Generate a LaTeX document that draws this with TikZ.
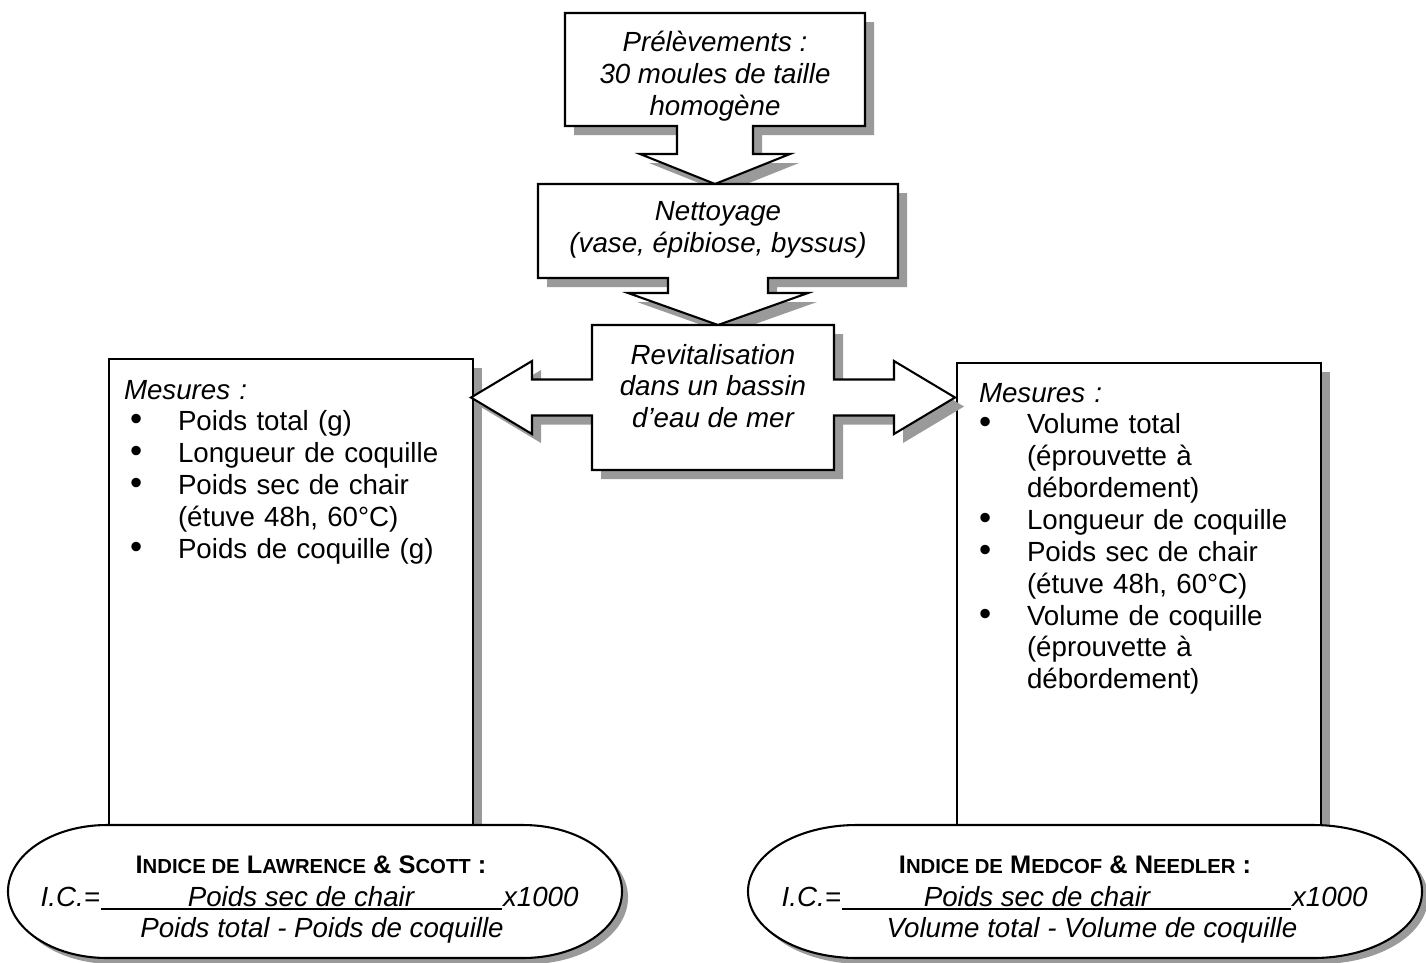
\documentclass[tikz,border=0pt]{standalone}
\usepackage{fontspec}
\setmainfont{Liberation Sans}
\usepackage{graphicx}
\usetikzlibrary{
  calc,
  positioning,
  backgrounds,
  shadows
}
\definecolor{gris}{HTML}{9A9A9A}
\pgfdeclarelayer{background}
\pgfsetlayers{background,main}
\newdimen\upx
\upx=0.4332pt
\newdimen\retrait
\newdimen\decal
\newcommand{\puce}[1]{\par\noindent\hangindent=\retrait\hangafter=1%
  \makebox[\retrait][l]{\hspace*{\decal}\scalebox{1.25}{\textbullet}}#1\par}
\newcommand{\pc}[1]{{\fontsize{8.8}{10}\selectfont #1}}
% box with a down arrow: node, stem half, stem length, head half, tip length
\newcommand{\calloutbas}[5]{%
  \draw[contour, ombrage] (#1.north west) -- (#1.north east) -- (#1.south east)
    -- ($(#1.south)+(#2,0)$) -- ($(#1.south)+(#2,#3)$)
    -- ($(#1.south)+(#4,#3)$) -- ($(#1.south)+(0,#5)$)
    -- ($(#1.south)+(-#4,#3)$) -- ($(#1.south)+(-#2,#3)$)
    -- ($(#1.south)+(-#2,0)$) -- (#1.south west) -- cycle;
}
% box with arrows to both sides: node, stem half, head base, head half, tip
\newcommand{\calloutcotes}[5]{%
  \draw[contour, ombrage] (#1.north west) -- (#1.north east)
    -- ($(#1.east)+(0,-#2)$) -- ($(#1.east)+(#3,-#2)$) -- ($(#1.east)+(#3,-#4)$)
    -- ($(#1.east)+(#5,0)$)
    -- ($(#1.east)+(#3,#4)$) -- ($(#1.east)+(#3,#2)$) -- ($(#1.east)+(0,#2)$)
    -- (#1.south east) -- (#1.south west)
    -- ($(#1.west)+(0,#2)$) -- ($(#1.west)+(-#3,#2)$) -- ($(#1.west)+(-#3,#4)$)
    -- ($(#1.west)+(-#5,0)$)
    -- ($(#1.west)+(-#3,-#4)$) -- ($(#1.west)+(-#3,-#2)$) -- ($(#1.west)+(0,-#2)$)
    -- cycle;
}
% terminator: node, cap x radius, cap y radius
\newcommand{\terminal}[3]{%
  \draw[contour, ombrage=2.6pt] ($(#1.north west)+(#2,0)$) -- ($(#1.north east)+(-#2,0)$)
    arc[start angle=-90, end angle=90, x radius=#2, y radius=#3]
    -- ($(#1.south west)+(#2,0)$)
    arc[start angle=90, end angle=270, x radius=#2, y radius=#3] -- cycle;
}
\tikzset{
  base/.style={
    text=black,
    font=\fontsize{12}{13.8}\selectfont,
    inner sep=0pt,
    outer sep=0pt,
  },
  italique/.style={
    base,
    font=\fontsize{12}{13.8}\selectfont\itshape,
    align=center,
  },
  cadre/.style={
    rectangle,
    draw=none,
    inner sep=0pt,
    outer sep=0pt,
  },
  ombrage/.style={
    drop shadow={
      shadow xshift=#1,
      shadow yshift=-#1,
      shadow scale=1,
      opacity=1,
      fill=gris
    },
  },
  ombrage/.default=3.9pt,
  contour/.style={
    draw=black,
    line width=0.9pt,
    fill=white,
    line join=miter,
  },
  boite/.style={
    cadre,
    contour,
    ombrage,
  },
  liste/.style={
    base,
    text width=143pt,
    align=left,
  },
  formule/.style={
    base,
    font=\fontsize{12}{13.8}\selectfont\itshape,
  },
  titre/.style={
    base,
    font=\fontsize{11}{13}\selectfont\bfseries,
  },
  barre/.style={
    draw=black,
    line width=1.1pt,
  },
}
\begin{document}
\begin{tikzpicture}[x=0.4332pt, y=-0.4332pt]

\useasboundingbox (0,0) rectangle (1426,962);

% === CHAIN: Prelevements -> Nettoyage -> Revitalisation ===

\node[cadre, minimum width=300*\upx, minimum height=113*\upx]
  (prelev) at (715,69.5) {};
\node[italique] (prelevtexte) at (715,76)
  {Prélèvements :\\30 moules de taille\\homogène};

\node[cadre, minimum width=360*\upx, minimum height=94*\upx]
  (nettoy) at (718,231) {};
\node[italique] (nettoytexte) at (718,230)
  {Nettoyage\\(vase, épibiose, byssus)};

\node[cadre, minimum width=242*\upx, minimum height=145*\upx]
  (revit) at (713,397.5) {};
\node[italique] (revittexte) at (713,386)
  {Revitalisation\\dans un bassin\\d’eau de mer};

% === Boxes and arrows, behind the texts ===
\begin{pgfonlayer}{background}
  \fill[white] (0,0) rectangle (1426,962);
  \node[boite, minimum width=364*\upx, minimum height=500*\upx, anchor=north west]
    (mesuresG) at (109,359) {};
  \node[boite, minimum width=364*\upx, minimum height=497*\upx, anchor=north west]
    (mesuresD) at (957,363) {};
  \calloutbas{prelev}{38}{28}{75}{58}
  \calloutbas{nettoy}{50}{15}{90}{47}
  \calloutcotes{revit}{18}{60}{36.5}{121}
\end{pgfonlayer}

% === Mesures ===

\node[liste, anchor=north west] (listeG) at (124,380) {\retrait=54\upx\decal=6\upx
  \noindent{\itshape Mesures :}\par
  \puce{Poids total (g)}
  \puce{Longueur de coquille}
  \puce{Poids sec de chair\newline(étuve 48h, 60°C)}
  \puce{Poids de coquille (g)}};

\node[liste, anchor=north west] (listeD) at (979,383) {\retrait=48\upx\decal=0pt
  \noindent{\itshape Mesures :}\par
  \puce{Volume total\newline(éprouvette à\newline débordement)}
  \puce{Longueur de coquille}
  \puce{Poids sec de chair\newline(étuve 48h, 60°C)}
  \puce{Volume de coquille\newline(éprouvette à\newline débordement)}};

% === Indice de Lawrence & Scott ===

\node[cadre, minimum width=614*\upx, minimum height=133*\upx]
  (indiceG) at (315,891.5) {};
\terminal{indiceG}{99}{66.5}

\node[titre, anchor=base] (titreG) at (311,873)
  {I\pc{NDICE DE} L\pc{AWRENCE} \& S\pc{COTT} :};
\node[formule, anchor=base east] (icG) at (100,906) {I.C.=};
\node[formule, anchor=base] (numG) at (301,906) {Poids sec de chair};
\node[formule, anchor=base west] (milleG) at (503,906) {x1000};
\node[formule, anchor=base] (denG) at (322,937) {Poids total - Poids de coquille};
\draw[barre] ($(icG.base east)+(1,3)$) -- ($(milleG.base west)+(-1,3)$);

% === Indice de Medcof & Needler ===

\node[cadre, minimum width=674*\upx, minimum height=133*\upx]
  (indiceD) at (1085,891.5) {};
\terminal{indiceD}{108.5}{66.5}

\node[titre, anchor=base] (titreD) at (1075,873)
  {I\pc{NDICE DE} M\pc{EDCOF} \& N\pc{EEDLER} :};
\node[formule, anchor=base east] (icD) at (841,906) {I.C.=};
\node[formule, anchor=base] (numD) at (1037,906) {Poids sec de chair};
\node[formule, anchor=base west] (milleD) at (1292,906) {x1000};
\node[formule, anchor=base] (denD) at (1092,937) {Volume total - Volume de coquille};
\draw[barre] ($(icD.base east)+(1,3)$) -- ($(milleD.base west)+(-1,3)$);

\end{tikzpicture}
\end{document}
